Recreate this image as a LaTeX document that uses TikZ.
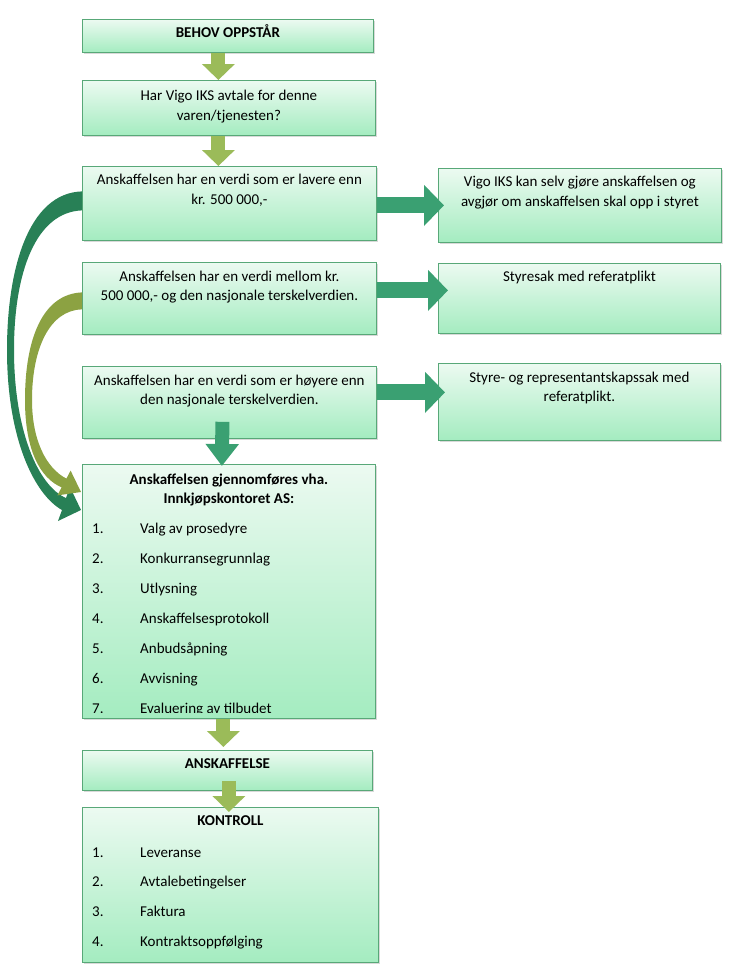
\documentclass[tikz,border=0pt]{standalone}
\usepackage{fontspec}
\setmainfont{Carlito}
\usetikzlibrary{arrows.meta, positioning, calc, shadows}

\definecolor{boxtop}{RGB}{236,250,241}
\definecolor{boxbot}{RGB}{164,236,192}
\definecolor{boxline}{RGB}{88,168,120}
\definecolor{olivearr}{RGB}{155,187,89}
\definecolor{tealarr}{RGB}{58,160,114}
\definecolor{darkcurve}{RGB}{40,128,86}
\definecolor{olivecurve}{RGB}{140,162,66}

\begin{document}
\begin{tikzpicture}[x=1pt, y=-1pt,
    box/.style={draw=boxline, line width=0.8pt, top color=boxtop, bottom color=boxbot,
      anchor=north west, inner sep=0pt,
      drop shadow={shadow xshift=1.5pt, shadow yshift=-1.5pt, opacity=0.3}},
    txt/.style={font=\fontsize{15}{19.5}\selectfont, align=center, inner sep=0pt},
    item/.style={font=\fontsize{15}{19.5}\selectfont, inner sep=0pt, anchor=base west},
    varrow/.style={olivearr, line width=14pt, -{Triangle[length=16pt, width=32pt]}},
    tarrow/.style={tealarr, line width=14pt, -{Triangle[length=22pt, width=32pt]}},
    harrow/.style={tealarr, line width=16pt, -{Triangle[length=20pt, width=40pt]}}
  ]
    \useasboundingbox (0,0) rectangle (744,972);

    % Boxes
    \node[box, minimum width=291, minimum height=33] (beh) at (82,19) {};
    \node[box, minimum width=293, minimum height=55] (har) at (82,80) {};
    \node[box, minimum width=294, minimum height=74] (lav) at (82,166) {};
    \node[box, minimum width=283, minimum height=74] (selv) at (438,168) {};
    \node[box, minimum width=294, minimum height=72] (mel) at (82,262) {};
    \node[box, minimum width=282, minimum height=70] (styr) at (438,263) {};
    \node[box, minimum width=294, minimum height=72] (hoy) at (82,366) {};
    \node[box, minimum width=282, minimum height=77] (rep) at (438,363) {};
    \node[box, minimum width=293, minimum height=254] (gjen) at (82,464) {};
    \node[box, minimum width=290, minimum height=40] (ansk) at (82,750) {};
    \node[box, minimum width=296, minimum height=155] (kont) at (82,807) {};

    % Texts
    \node[txt, below=5pt of beh.north] (behT) {\strut\textbf{BEHOV OPPSTÅR}};
    \node[txt, below=7pt of har.north] (harT) {\strut Har Vigo IKS avtale for denne\\varen/tjenesten?};
    \node[txt, below=5pt of lav.north] (lavT) {\strut Anskaffelsen har en verdi som er lavere enn\\kr. 500 000,-};
    \node[txt, below=5pt of selv.north] (selvT) {\strut Vigo IKS kan selv gjøre anskaffelsen og\\avgjør om anskaffelsen skal opp i styret};
    \node[txt, below=5.5pt of mel.north] (melT) {\strut Anskaffelsen har en verdi mellom kr.\\500 000,- og den nasjonale terskelverdien.};
    \node[txt, below=5pt of styr.north] (styrT) {\strut Styresak med referatplikt};
    \node[txt, below=5.5pt of hoy.north] (hoyT) {\strut Anskaffelsen har en verdi som er høyere enn\\den nasjonale terskelverdien.};
    \node[txt, below=5.5pt of rep.north] (repT) {\strut Styre- og representantskapssak med\\referatplikt.};
    \node[txt, below=6.5pt of gjen.north] (gjenT) {\strut\textbf{Anskaffelsen gjennomføres vha.}\\\textbf{Innkjøpskontoret AS:}};
    \node[txt, below=5pt of ansk.north] (anskT) {\strut\textbf{ANSKAFFELSE}};
    \node[txt, below=5pt of kont.north] (kontT) {\strut\textbf{KONTROLL}};

    % Lists
    \begin{scope}
      \clip (82,464) rectangle (375,712);
      \foreach \t [count=\i] in {Valg av prosedyre, Konkurransegrunnlag, Utlysning,
          Anskaffelsesprotokoll, Anbudsåpning, Avvisning, Evaluering av tilbudet} {
        \node[item] (gn\i) at (92,503+30*\i) {\i.};
        \node[item] (gi\i) at (140,503+30*\i) {\t};
      }
    \end{scope}
    \foreach \t [count=\i] in {Leveranse, Avtalebetingelser, Faktura, Kontraktsoppfølging} {
      \node[item] (kn\i) at (92,827.3+29.7*\i) {\i.};
      \node[item] (ki\i) at (140,827.3+29.7*\i) {\t};
    }

    % Arrows
    \draw[varrow] ([xshift=-9.5pt]beh.south) -- ([xshift=-10.5pt]har.north);
    \draw[varrow] ([xshift=-10.5pt]har.south) -- ([xshift=-11pt]lav.north);
    \draw[harrow] ([yshift=-2pt]lav.east) -- ($(lav.east -| selv.west)+(6,2)$);
    \draw[harrow] ([yshift=8pt]mel.east) -- ($(mel.east -| styr.west)+(10,-8)$);
    \draw[harrow] ([yshift=10pt]hoy.east) -- ($(hoy.east -| rep.west)+(7,-10)$);
    \draw[tarrow] ([xshift=-7pt, yshift=17pt]hoy.south) -- ([xshift=-7pt, yshift=-2pt]gjen.north);
    \draw[varrow] ([xshift=-5.5pt]gjen.south) -- ([xshift=-4pt, yshift=3pt]ansk.north);
    \draw[varrow] ([xshift=1.5pt, yshift=10pt]ansk.south) -- ([xshift=-1.5pt, yshift=-5pt]kont.north);

    % curved arrows on the left
    \fill[darkcurve] ([yshift=12pt]lav.west) .. controls (28,193) and (7,270) .. (7,350)
      .. controls (7,440) and (35,495) .. (62,510) -- (58,521) -- (81,510) -- (70,487)
      -- (66,498) .. controls (38,486) and (14,430) .. (14,350)
      .. controls (14,272) and (36,212) .. ([yshift=-7pt]lav.west) -- cycle;
    \fill[olivecurve] ([yshift=6pt]mel.west) .. controls (42,294) and (25,340) .. (25,400)
      .. controls (25,450) and (40,478) .. (61.6,487.4) -- (57.4,495.4) -- (81,492)
      -- (70.6,470.6) -- (66.4,478.6) .. controls (46,468) and (32,440) .. (32,400)
      .. controls (32,348) and (50,310) .. ([yshift=-11pt]mel.west) -- cycle;
  \end{tikzpicture}
\end{document}
